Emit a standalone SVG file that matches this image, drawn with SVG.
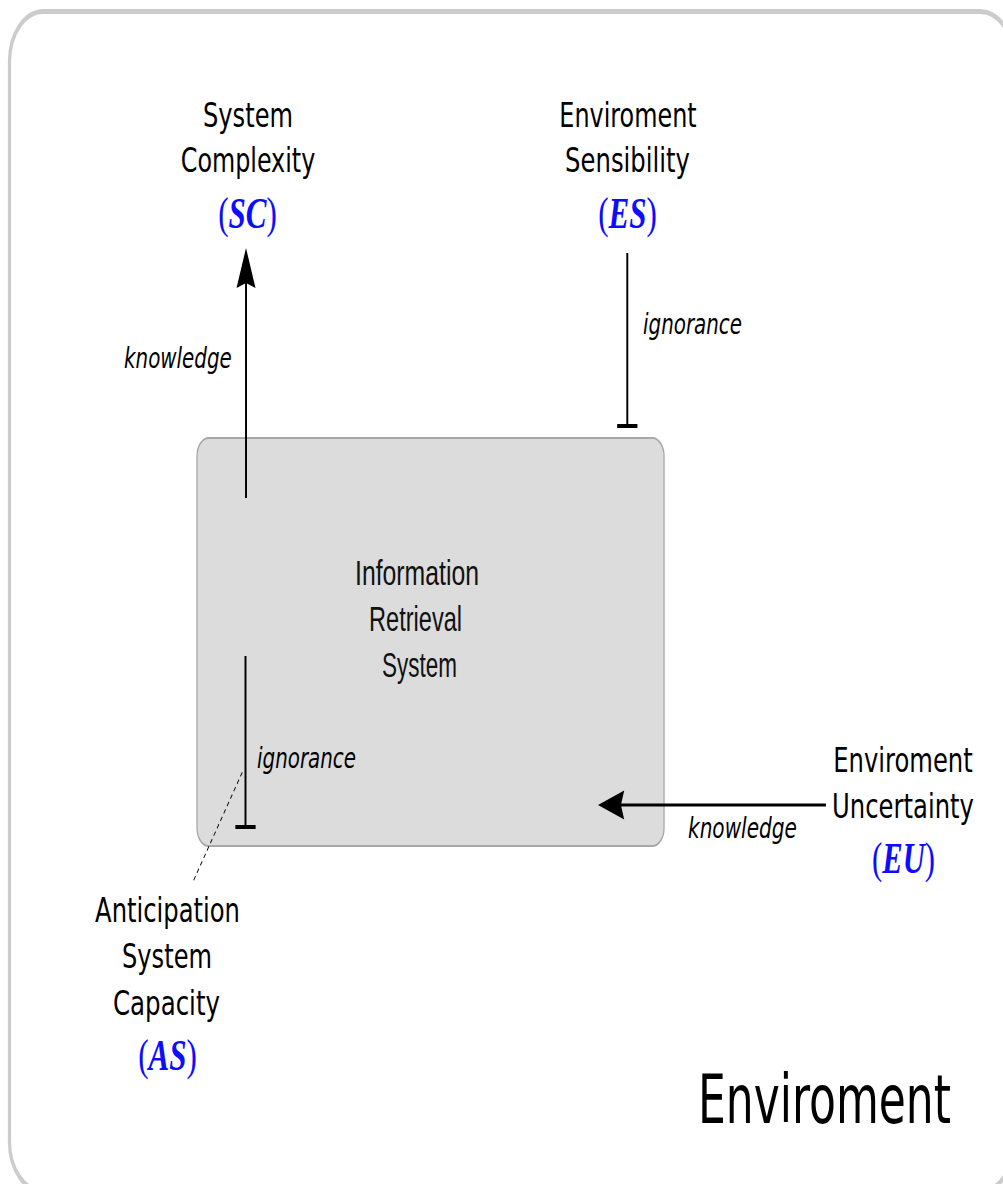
<svg xmlns="http://www.w3.org/2000/svg" width="1003" height="1184" viewBox="0 0 1003 1184">
  <style>
    .lbl { font-family: "DejaVu Sans", "Liberation Sans", sans-serif; font-size: 33px; fill: #000; text-anchor: middle; }
    .abbr { font-family: "Liberation Serif", "DejaVu Serif", serif; font-size: 45px; fill: #0c0cff; text-anchor: middle; }
    .abbr .ab { font-weight: bold; font-style: italic; }
    .edge-lbl { font-family: "DejaVu Sans", "Liberation Sans", sans-serif; font-size: 28px; font-style: italic; fill: #000; }
    .irs { font-family: "Liberation Sans", "Open Sans", sans-serif; font-size: 35px; fill: #111; text-anchor: middle; }
    .env { font-family: "DejaVu Sans", "Liberation Sans", sans-serif; font-size: 68px; fill: #000; }
    .conn { stroke: #000; stroke-width: 3; fill: none; }
  </style>
  <defs>
    <marker id="arrow" markerUnits="userSpaceOnUse" orient="auto" refX="0" refY="0" markerWidth="60" markerHeight="40" overflow="visible">
      <path d="M35,0 L-5,-14.5 L0,0 L-5,14.5 Z" fill="#000"/>
    </marker>
    <marker id="tee" markerUnits="userSpaceOnUse" orient="auto" refX="0" refY="0" markerWidth="40" markerHeight="40" overflow="visible">
      <path d="M0,-15.5 L0,15.5" stroke="#000" stroke-width="4" fill="none"/>
    </marker>
  </defs>
  <rect x="0" y="0" width="1003" height="1184" fill="#fff"/>

  <g id="environment-frame" transform="scale(0.655,1)">
    <rect x="14.5" y="11.5" width="1534" height="1180" rx="52" ry="50" fill="none" stroke="#cccccc" stroke-width="5"/>
  </g>

  <g id="node-irs">
    <g transform="scale(0.655,1)">
      <rect x="300.8" y="438" width="713" height="408" rx="18" ry="18" fill="#dcdcdc" stroke="#a8a8a8" stroke-width="2"/>
    </g>
    <text class="irs" transform="translate(417,585) scale(0.708,1)">Information</text>
    <text class="irs" transform="translate(415.5,631) scale(0.674,1)">Retrieval</text>
    <text class="irs" transform="translate(419.5,677) scale(0.643,1)">System</text>
  </g>

  <g id="connectors">
    <g transform="scale(0.655,1)">
      <line class="conn" x1="375.6" y1="498" x2="375.6" y2="283" marker-end="url(#arrow)"/>
      <line class="conn" x1="957.7" y1="253" x2="957.7" y2="426" marker-end="url(#tee)"/>
      <line class="conn" x1="374.8" y1="656" x2="374.8" y2="827" marker-end="url(#tee)"/>
      <line class="conn" x1="1261" y1="805" x2="948" y2="805" marker-end="url(#arrow)"/>
      <line x1="369.9" y1="772.3" x2="293.6" y2="883.3" stroke="#000" stroke-width="1.3" stroke-dasharray="5 4"/>
    </g>
    <text class="edge-lbl" transform="translate(124,368) scale(0.711,1)">knowledge</text>
    <text class="edge-lbl" transform="translate(643,334) scale(0.71,1)">ignorance</text>
    <text class="edge-lbl" transform="translate(257,768) scale(0.71,1)">ignorance</text>
    <text class="edge-lbl" transform="translate(688,838) scale(0.718,1)">knowledge</text>
  </g>

  <g id="node-sc">
    <text class="lbl" transform="translate(248,127) scale(0.731,1)">System</text>
    <text class="lbl" transform="translate(248,172) scale(0.722,1)">Complexity</text>
    <text class="abbr" transform="translate(247.5,228) scale(0.69,1)">(<tspan class="ab">SC</tspan>)</text>
  </g>

  <g id="node-es">
    <text class="lbl" transform="translate(628,127) scale(0.724,1)">Enviroment</text>
    <text class="lbl" transform="translate(627.5,172) scale(0.737,1)">Sensibility</text>
    <text class="abbr" transform="translate(627.5,228) scale(0.69,1)">(<tspan class="ab">ES</tspan>)</text>
  </g>

  <g id="node-eu">
    <text class="lbl" transform="translate(903,772) scale(0.735,1)">Enviroment</text>
    <text class="lbl" transform="translate(903,818) scale(0.736,1)">Uncertainty</text>
    <text class="abbr" transform="translate(903.5,873) scale(0.68,1)">(<tspan class="ab">EU</tspan>)</text>
  </g>

  <g id="node-as">
    <text class="lbl" transform="translate(167.5,922) scale(0.735,1)">Anticipation</text>
    <text class="lbl" transform="translate(167,968) scale(0.731,1)">System</text>
    <text class="lbl" transform="translate(166.5,1015) scale(0.742,1)">Capacity</text>
    <text class="abbr" transform="translate(167.5,1070) scale(0.69,1)">(<tspan class="ab">AS</tspan>)</text>
  </g>

  <g id="label-environment">
    <text class="env" transform="translate(698,1123) scale(0.647,1)">Enviroment</text>
  </g>
</svg>
